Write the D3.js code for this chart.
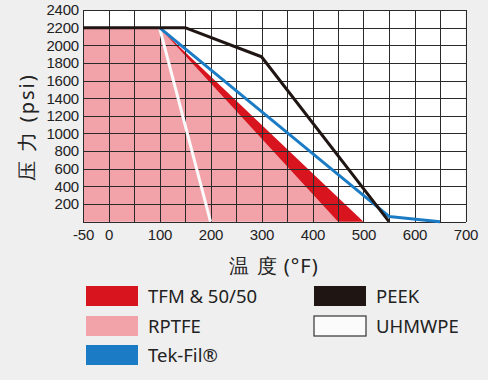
<!DOCTYPE html>
<html><head><meta charset="utf-8">
<script src="https://cdn.jsdelivr.net/npm/d3@7"></script>
<style>body{margin:0;background:#efefef;}svg{display:block;}</style>
</head><body>
<svg id="c" width="488" height="380"></svg>
<script>
// Data (temperature °F, pressure psi)
const xTicks = [-50, 0, 100, 200, 300, 400, 500, 600, 700];
const yTicks = [200, 400, 600, 800, 1000, 1200, 1400, 1600, 1800, 2000, 2200, 2400];
const rptfeTemp = [-50, 100, 450];
const rptfePsi  = [2200, 2200, 0];
const tfmTemp = [100, 500];
const tfmPsi  = [2200, 0];
const tekfilTemp = [100, 550, 650];
const tekfilPsi  = [2200, 60, 0];
const peekTemp = [-50, 150, 300, 550];
const peekPsi  = [2200, 2200, 1870, 0];
const uhmwpeTemp = [100, 200];
const uhmwpePsi  = [2200, 0];
const legendNames = ["TFM & 50/50", "RPTFE", "Tek-Fil®", "PEEK", "UHMWPE"];

const C = {red:"#d8141f", pink:"#f2a2a9", blue:"#1b7cc5", black:"#1f1614", white:"#fbfbfb", grid:"#2a2a2a"};
const svg = d3.select("#c");
const x = d3.scaleLinear().domain([-50, 700]).range([83, 465.5]);
const y = d3.scaleLinear().domain([0, 2400]).range([221.7, 10]);
const font = "'Noto Sans', 'Liberation Sans', sans-serif";
const tickFont = "'Liberation Sans', Arial, sans-serif";
const pts = (t, p) => t.map((d, i) => [d, p[i]]);
const line = d3.line().x(d => x(d[0])).y(d => y(d[1]));

// plot background
svg.append("rect").attr("x", x(-50)).attr("y", y(2400)).attr("width", x(700) - x(-50)).attr("height", y(0) - y(2400)).attr("fill", "#ffffff");

// RPTFE pink area
const rp = pts(rptfeTemp, rptfePsi);
svg.append("path").attr("d", line([[-50, 0], ...rp]) + "Z").attr("fill", C.pink);
// TFM red band between RPTFE edge and TFM line
const tf = pts(tfmTemp, tfmPsi);
svg.append("path").attr("d", line([tf[0], tf[1], [rptfeTemp[2], 0], [rptfeTemp[1], rptfePsi[1]]]) + "Z").attr("fill", C.red);

// grid
const g = svg.append("g").attr("stroke", C.grid).attr("stroke-width", 1).attr("shape-rendering", "crispEdges");
d3.range(-50, 701, 50).forEach(v => g.append("line").attr("x1", Math.round(x(v)) + 0.5).attr("x2", Math.round(x(v)) + 0.5).attr("y1", y(0)).attr("y2", y(2400)));
d3.range(0, 2401, 200).forEach(v => g.append("line").attr("y1", Math.round(y(v)) + 0.5).attr("y2", Math.round(y(v)) + 0.5).attr("x1", x(-50)).attr("x2", x(700)));

// lines
svg.append("path").attr("d", line(pts(uhmwpeTemp, uhmwpePsi))).attr("stroke", C.white).attr("stroke-width", 3).attr("fill", "none");
svg.append("path").attr("d", line(pts(tekfilTemp, tekfilPsi))).attr("stroke", C.blue).attr("stroke-width", 3).attr("fill", "none").attr("stroke-linejoin", "round");
svg.append("path").attr("d", line(pts(peekTemp, peekPsi))).attr("stroke", C.black).attr("stroke-width", 3).attr("fill", "none").attr("stroke-linejoin", "round");

// axes
const fmt = d => String(d);
const yAxis = d3.axisLeft(y).tickValues(yTicks).tickFormat(fmt).tickSize(0).tickPadding(0);
const ya = svg.append("g").attr("transform", "translate(79,0)").call(yAxis);
ya.select(".domain").remove();
ya.selectAll("text").attr("font-family", tickFont).attr("font-size", 15).attr("fill", "#222").attr("letter-spacing", "-0.2");

const xAxis = d3.axisBottom(x).tickValues(xTicks).tickFormat(fmt).tickSize(0).tickPadding(0);
const xa = svg.append("g").attr("transform", "translate(0,229)").call(xAxis);
xa.select(".domain").remove();
xa.selectAll("text").attr("font-family", tickFont).attr("font-size", 15).attr("fill", "#222").attr("letter-spacing", "-0.2");

// titles
svg.append("text").attr("transform", "translate(34,127) rotate(-90)").attr("text-anchor", "middle")
  .attr("font-family", font).attr("font-size", 20).attr("letter-spacing", "2").attr("fill", "#222").text("压 力 (psi)");
svg.append("text").attr("x", 274).attr("y", 273).attr("text-anchor", "middle")
  .attr("font-family", font).attr("font-size", 20).attr("letter-spacing", "1").attr("fill", "#222").text("温 度 (°F)");

// legend
const legFill = [C.red, C.pink, C.blue, C.black, C.white];
const legX = [86, 86, 86, 314, 314];
const legY = [286, 316, 345, 286, 316];
legendNames.forEach((n, i) => {
  svg.append("rect").attr("x", legX[i]).attr("y", legY[i]).attr("width", 52).attr("height", 20)
    .attr("fill", legFill[i]).attr("stroke", i === 4 ? "#333" : "none").attr("stroke-width", 1.2);
  svg.append("text").attr("x", legX[i] + 62).attr("y", legY[i] + 17).attr("font-family", font)
    .attr("font-size", 18.5).attr("fill", "#222").text(n);
});
</script>
</body></html>
